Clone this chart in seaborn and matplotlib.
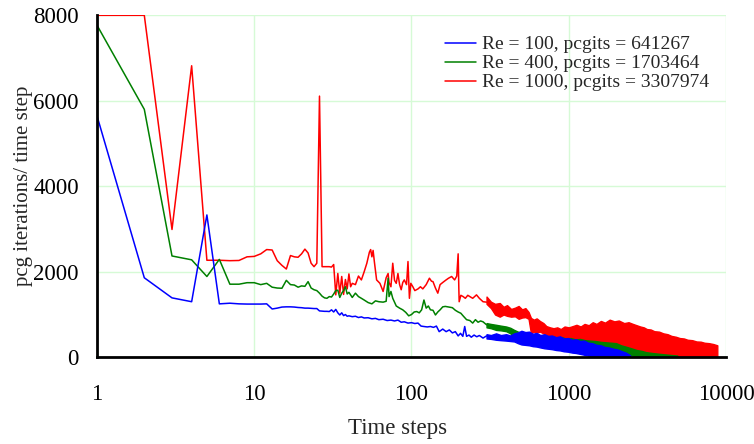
import matplotlib
matplotlib.use("Agg")
import matplotlib.pyplot as plt
from matplotlib.ticker import LogLocator, NullFormatter
import numpy as np
import pandas as pd
import seaborn as sns

# ---------------- data ----------------
labels = ["Re = 100, pcgits = 641267",
          "Re = 400, pcgits = 1703464",
          "Re = 1000, pcgits = 3307974"]
colors = ["#0000ff", "#008000", "#ff0000"]

x_ticks = [1, 10, 100, 1000, 10000]
x_tick_labels = ["1", "10", "100", "1000", "10000"]
y_ticks = [0, 2000, 4000, 6000, 8000]
y_tick_labels = ["0", "2000", "4000", "6000", "8000"]

# Re = 100 (blue): individual steps, then dense noisy band (upper / lower envelope)
blue_steps = [1, 2, 3, 4, 5, 6, 7, 8, 9, 10, 11, 12, 13, 14, 15, 16, 17, 18, 19, 20,
              21, 22, 23, 24, 25, 26, 27, 28, 29, 30, 31, 32, 33, 34, 35, 36, 37, 38, 39, 40,
              42, 44, 46, 48, 50, 53, 56, 59, 62, 66, 70, 74, 78, 82, 86, 90, 95, 100, 105, 110,
              115, 120, 126, 132, 138, 144, 150, 158, 166, 174, 182, 190, 198, 205, 212, 218,
              224, 232, 240, 250, 260, 270, 285, 300]
blue_vals = [5650, 1860, 1390, 1300, 3330, 1250, 1265, 1250, 1245, 1245,
             1245, 1250, 1130, 1150, 1175, 1180, 1180, 1175, 1165, 1160,
             1150, 1150, 1145, 1140, 1140, 1085, 1080, 1075, 1075, 1070,
             1110, 1060, 1120, 1040, 990, 1040, 975, 1000, 960, 970,
             950, 960, 930, 945, 920, 925, 900, 910, 880, 890,
             860, 870, 850, 870, 820, 830, 800, 810, 790, 800,
             730, 720, 710, 720, 700, 730, 600, 660, 600, 640,
             570, 600, 500, 560, 490, 720, 490, 520, 470, 520,
             480, 510, 450, 500]
blue_band_steps = [300, 320, 345, 370, 400, 425, 450, 475, 500, 530, 560, 590, 625, 660,
                   700, 740, 780, 830, 880, 930, 990, 1050, 1110, 1180, 1250, 1330, 1410,
                   1500, 1600, 1700, 1800, 1920, 2050, 2180, 2300, 2400, 2460]
blue_band_hi = [540, 520, 560, 520, 540, 510, 560, 580, 620, 590, 600, 550, 570, 520,
                540, 500, 510, 470, 490, 440, 450, 410, 420, 380, 390, 340, 330,
                290, 280, 240, 230, 200, 180, 140, 110, 70, 40]
blue_band_lo = [440, 430, 410, 400, 390, 380, 370, 330, 300, 290, 280, 260, 250, 230,
                210, 200, 190, 170, 160, 140, 130, 110, 100, 80, 60, 40, 30,
                20, 10, 0, 0, 0, 0, 0, 0, 0, 0]

# Re = 400 (green)
green_steps = [1, 2, 3, 4, 5, 6, 7, 8, 9, 10, 11, 12, 13, 14, 15, 16, 17, 18, 19, 20,
               21, 22, 23, 24, 25, 26, 27, 28, 29, 30, 31, 32, 33, 34, 35, 36, 37, 38, 39, 40,
               42, 44, 46, 48, 50, 53, 56, 59, 62, 66, 69, 71, 72, 74, 76, 80, 84, 88, 92, 96,
               100, 104, 108, 112, 116, 120, 124, 128, 132, 137, 142, 147, 152, 158, 164, 170,
               176, 182, 190, 198, 206, 214, 224, 235, 245, 255, 265, 275, 285, 300]
green_vals = [7770, 5800, 2370, 2280, 1890, 2290, 1710, 1710, 1745, 1745,
              1700, 1730, 1640, 1620, 1615, 1800, 1700, 1690, 1640, 1670,
              1660, 1770, 1620, 1580, 1560, 1500, 1430, 1390, 1380, 1420,
              1410, 1480, 1560, 1570, 1400, 1500, 1560, 1650, 1480, 1520,
              1400, 1500, 1420, 1380, 1340, 1280, 1250, 1320, 1300, 1290,
              1310, 1850, 1420, 1540, 1380, 1200, 1150, 1110, 1050, 970,
              1000, 1060, 1070, 1040, 1110, 1340, 1150, 1200, 1110, 1100,
              990, 1060, 1110, 1180, 1190, 1180, 1170, 1160, 1100, 1060,
              1030, 960, 880, 860, 800, 880, 820, 850, 830, 760]
green_band_steps = [300, 320, 345, 370, 400, 425, 450, 475, 500, 530, 560, 590, 625, 660,
                    700, 740, 790, 840, 900, 960, 1030, 1100, 1180, 1270, 1370, 1480,
                    1600, 1730, 1870, 2000, 2150, 2300, 2500, 2700, 2900, 3100, 3400,
                    3800, 4300, 4900]
green_band_hi = [800, 780, 760, 740, 720, 690, 640, 600, 580, 560, 540, 520, 530, 500,
                 510, 480, 490, 460, 470, 440, 450, 420, 430, 400, 390, 380,
                 360, 350, 340, 330, 280, 250, 210, 170, 150, 120, 100,
                 80, 60, 40]
green_band_lo = [700, 680, 640, 630, 610, 560, 470, 440, 430, 420, 410, 400, 390, 380,
                 360, 340, 320, 300, 280, 260, 240, 220, 210, 190, 170, 160,
                 140, 120, 110, 100, 70, 60, 40, 30, 20, 0, 0,
                 0, 0, 0]

# Re = 1000 (red)
red_steps = [1, 2, 3, 4, 5, 6, 7, 8, 9, 10, 11, 12, 13, 14, 15, 16, 17, 18, 19, 20,
             21, 22, 23, 24, 25, 26, 27, 28, 29, 30, 31, 32, 33, 34, 35, 36, 37, 38, 39, 40,
             41, 42, 44, 46, 48, 50, 52, 54, 55, 56, 57, 58, 60, 63, 66, 69, 71, 72, 74, 76,
             78, 80, 82, 84, 86, 88, 90, 93, 95, 96, 97, 99, 102, 105, 110, 114, 118, 124,
             130, 134, 137, 142, 147, 152, 158, 166, 172, 180, 188, 194, 198, 200, 201, 206,
             213, 220, 228, 235, 245, 259, 270, 285, 300]
red_vals = [8000, 8000, 2990, 6820, 2270, 2270, 2260, 2265, 2350, 2360,
            2420, 2520, 2510, 2260, 2150, 2065, 2380, 2350, 2340, 2420,
            2530, 2440, 2200, 2120, 2200, 6110, 2120, 2120, 2120, 2120,
            2110, 2170, 1460, 1960, 1500, 1890, 1470, 1820, 1600, 1950,
            1650, 1730,
            1700, 1900, 1810, 2000, 2200, 2460, 2520, 2350, 2500, 2250,
            1810, 1730, 1540, 1860, 1960, 1750, 1650, 2200, 1800, 1730,
            1960, 1700, 1580, 1750, 1810, 1700, 2240, 1800, 1380, 1730,
            1650, 1560, 1600, 1650, 1600, 1700, 1850, 1780, 1770, 1620,
            1500, 1700, 1750, 1810, 1850, 1890, 1810, 1900, 2420, 1600,
            1300, 1450, 1420, 1380, 1450, 1420, 1380, 1460, 1380, 1300,
            1290]
red_band_steps = [300, 320, 340, 364, 385, 405, 430, 455, 480, 505, 530, 555, 575, 600,
                  625, 655, 690, 720, 760, 800, 845, 890, 940, 1000, 1060, 1120, 1190,
                  1260, 1340, 1420, 1500, 1600, 1700, 1820, 1950, 2080, 2250, 2400, 2560,
                  2700, 2850, 3000, 3140, 3320, 3500, 3750, 3990, 4250, 4500, 4800, 5080,
                  5400, 5700, 6100, 6490, 6900, 7300, 7800, 8300, 8800]
red_band_hi = [1420, 1300, 1250, 1270, 1180, 1220, 1130, 1160, 1200, 1120, 1150, 1060, 920, 880,
               910, 850, 800, 730, 700, 680, 700, 660, 720, 700, 730, 760, 720,
               780, 750, 820, 780, 850, 810, 880, 840, 860, 800, 820, 780,
               750, 720, 700, 660, 650, 610, 600, 560, 540, 500, 480, 450,
               440, 410, 400, 370, 365, 340, 330, 310, 280]
red_band_lo = [1250, 1150, 1000, 950, 1000, 970, 950, 960, 900, 930, 940, 900, 560, 600,
               580, 600, 560, 520, 480, 450, 420, 420, 400, 400, 380, 340, 330,
               310, 300, 280, 260, 260, 250, 240, 240, 220, 200, 180, 170,
               150, 140, 120, 110, 90, 80, 60, 40, 30, 20, 0, 0,
               0, 0, 0, 0, 0, 0, 0, 0, 0]

# ---------------- style ----------------
sns.set_style("white")
plt.rcParams["font.family"] = ["Liberation Serif", "DejaVu Serif"]

fig = plt.figure(figsize=(7.54, 4.44), dpi=100)
ax = fig.add_axes([0.1286, 0.1953, 0.9629 - 0.1286, 0.9655 - 0.1953])

series = [
    (red_steps, red_vals, red_band_steps, red_band_hi, red_band_lo, colors[2], labels[2], 2),
    (green_steps, green_vals, green_band_steps, green_band_hi, green_band_lo, colors[1], labels[1], 3),
    (blue_steps, blue_vals, blue_band_steps, blue_band_hi, blue_band_lo, colors[0], labels[0], 4),
]
for steps, vals, bsteps, bhi, blo, col, lab, z in series:
    df = pd.DataFrame({"step": steps, "val": vals})
    sns.lineplot(data=df, x="step", y="val", ax=ax, color=col, lw=1.1,
                 estimator=None, sort=False, label=lab, zorder=z)
    ax.fill_between(bsteps, blo, bhi, color=col, lw=1.0, zorder=z)

ax.set_xscale("log")
ax.set_xlim(1, 10000)
ax.set_ylim(0, 8000)
ax.set_xticks(x_ticks, labels=x_tick_labels)
ax.xaxis.set_minor_locator(LogLocator(base=10, subs=np.arange(2, 10)))
ax.xaxis.set_minor_formatter(NullFormatter())
ax.set_yticks(y_ticks, labels=y_tick_labels)

ax.grid(True, which="major", color="#d6fad6", lw=1.0, zorder=0)
ax.set_axisbelow(True)
for s in ["top", "right"]:
    ax.spines[s].set_visible(False)
for s in ["left", "bottom"]:
    ax.spines[s].set_linewidth(2.0)
    ax.spines[s].set_color("black")
    ax.spines[s].set_zorder(6)

ax.tick_params(axis="y", which="major", direction="in", length=7, width=1.6,
               labelsize=16.5, pad=13, colors="black")
ax.tick_params(axis="x", which="major", direction="in", length=6.5, width=1.6,
               labelsize=16.5, pad=19, colors="black")
ax.tick_params(axis="x", which="minor", direction="in", length=4.5, width=1.3,
               colors="black")

ax.set_xlabel("Time steps", fontsize=16.5)
ax.xaxis.set_label_coords(0.4785, -0.177)
ax.set_ylabel("pcg iterations/ time step", fontsize=15, labelpad=0)

handles, labs = ax.get_legend_handles_labels()
order = [labs.index(l) for l in labels]
leg = ax.legend([handles[i] for i in order], [labs[i] for i in order],
                loc="upper left", bbox_to_anchor=(0.553, 0.94), frameon=False,
                fontsize=14.0, handlelength=1.6, handletextpad=0.3,
                labelspacing=0.07, borderpad=0, borderaxespad=0)

fig.savefig("out.png", dpi=100)
